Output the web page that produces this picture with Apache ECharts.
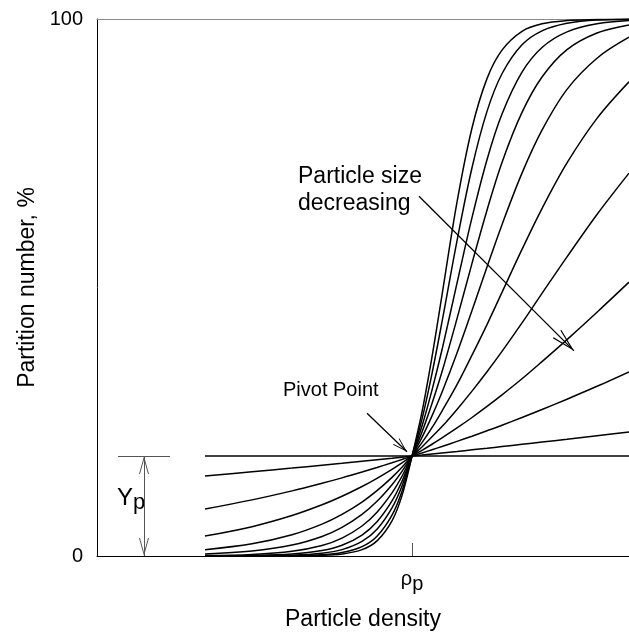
<!DOCTYPE html>
<html>
<head>
<meta charset="utf-8">
<script src="https://cdn.jsdelivr.net/npm/echarts@6/dist/echarts.min.js"></script>
<style>
html,body{margin:0;padding:0;background:#fff;}
#chart{width:629px;height:643px;}
</style>
</head>
<body>
<div id="chart"></div>
<script>
// x positions (arbitrary density units) where each curve was read
var xs = [108,155,195,225,245,265,280,295,305,315,325,335,345,360,375,390,405,425,445,470,500,532];
// partition number (%) curves, steepest (largest particles) to flattest
var curveA = [0,0,0.02,0.11,0.37,1.18,2.82,6.56,11.24,18.6,26.85,37.1,48.6,65.9,79.7,88.9,94.2,97.7,99.1,99.7,99.9,100];
var curveB = [0,0,0.05,0.23,0.64,1.75,3.69,7.61,12.07,18.6,25.5,33.98,43.6,58.7,72.3,82.8,89.8,95.2,97.8,99.2,99.8,99.9];
var curveC = [0,0.03,0.15,0.52,1.19,2.72,4.99,8.98,13.05,18.6,24.2,30.9,38.4,50.8,63.0,73.8,82.3,90.1,94.7,97.6,99.1,99.7];
var curveD = [0.02,0.09,0.36,1.01,2.0,3.91,6.39,10.28,13.93,18.6,23.1,28.4,34.3,44.2,54.5,64.4,73.3,82.6,89.2,94.3,97.4,98.9];
var curveE = [0.09,0.30,0.89,1.97,3.34,5.59,8.16,11.75,14.85,18.6,22.1,26.1,30.5,37.8,45.7,53.8,61.7,71.3,79.3,86.9,92.7,96.6];
var curveF = [0.36,0.92,2.03,3.64,5.34,7.76,10.19,13.28,15.76,18.6,21.1,23.9,27.0,31.9,37.4,43.1,49.1,57.1,64.7,73.2,81.5,88.3];
var curveG = [1.17,2.27,3.95,5.93,7.75,10.05,12.17,14.65,16.53,18.6,20.3,22.2,24.1,27.3,30.7,34.3,38.1,43.4,48.9,55.7,63.6,71.3];
var curveH = [3.71,5.46,7.53,9.53,11.12,12.94,14.47,16.14,17.33,18.6,19.68,20.81,21.99,23.84,25.79,27.85,30.0,33.0,36.2,40.3,45.4,51.0];
var curveI = [8.74,10.45,12.13,13.54,14.55,15.63,16.48,17.36,17.97,18.6,19.18,19.78,20.39,21.34,22.31,23.32,24.35,25.79,27.27,29.2,31.6,34.3];
var curveJ = [14.89,15.68,16.37,16.91,17.27,17.65,17.93,18.21,18.41,18.6,18.79,18.99,19.18,19.47,19.77,20.07,20.38,20.79,21.21,21.74,22.39,23.1];
var flatX = [108,532];
var flatY = [18.6,18.6];
// pivot point and axis ticks
var pivotX = 315;
var pivotY = 18.6;
var xMin = 0, xMax = 532;
var yTicks = [0,100];
// annotation geometry (data units)
var sizeArrow = [[322,67.0],[477,38.2]];
var pivotArrow = [[270,26.6],[310,19.4]];
var ypArrowX = 47;
var ypLineX = [21,73];

var FONT = '"Liberation Sans", Arial, sans-serif';
var chevron = 'path://M0,0 L6,16 L4.8,16 L0,3.2 L-4.8,16 L-6,16 Z';

function zip(x, y){ return x.map(function(v,i){ return [v, y[i]]; }); }
function head(w, h){ return {symbol:chevron, symbolSize:[w,h], symbolOffset:[0, h/2]}; }

var curves = [curveA,curveB,curveC,curveD,curveE,curveF,curveG,curveH,curveI,curveJ];
var series = curves.map(function(c){
  return {
    type:'line', data: zip(xs,c), smooth:0.35,
    showSymbol:false, symbol:'none', silent:true,
    lineStyle:{color:'#000', width:1.5}
  };
});
function end(coord, h){ var o = {coord:coord}; if (h) { for (var k in h) o[k] = h[k]; } else { o.symbol = 'none'; } return o; }
series.push({
  type:'line', data: zip(flatX, flatY), symbol:'none', silent:true,
  lineStyle:{color:'#000', width:1.5},
  markLine:{
    silent:true, animation:false, label:{show:false},
    data:[
      [Object.assign(end(sizeArrow[0]), {lineStyle:{color:'#000',width:1.3,type:'solid'}}), end(sizeArrow[1], head(12,24))],
      [Object.assign(end(pivotArrow[0]), {lineStyle:{color:'#000',width:1.3,type:'solid'}}), end(pivotArrow[1], head(9,15))],
      [Object.assign(end([ypArrowX,0], head(10,18)), {lineStyle:{color:'#555',width:1,type:'solid'}}), end([ypArrowX,pivotY], head(10,18))],
      [Object.assign(end([ypLineX[0],pivotY]), {lineStyle:{color:'#555',width:1,type:'solid'}}), end([ypLineX[1],pivotY])]
    ]
  }
});

var chart = echarts.init(document.getElementById('chart'), null, {renderer:'canvas'});
chart.setOption({
  animation:false,
  backgroundColor:'#fff',
  grid:{left:97, right:0, top:19, bottom:87},
  xAxis:[{
    type:'value', min:xMin, max:xMax, position:'bottom',
    axisLine:{show:true, lineStyle:{color:'#000', width:1}},
    splitLine:{show:false},
    axisTick:{show:true, inside:true, length:13, customValues:[pivotX], lineStyle:{color:'#555'}},
    axisLabel:{show:true, customValues:[pivotX], margin:12,
      formatter:function(v){ return v===pivotX ? '{r|ρ}{s|p}' : ''; },
      rich:{r:{fontSize:20, fontFamily:FONT, color:'#000', padding:[0,0,4,0]},
            s:{fontSize:20, fontFamily:FONT, color:'#000', padding:[6,0,0,0]}}},
    name:'Particle density', nameLocation:'middle', nameGap:52,
    nameTextStyle:{fontSize:23, fontFamily:FONT, color:'#000'}
  },{
    type:'value', min:xMin, max:xMax, position:'top',
    axisLine:{show:true, lineStyle:{color:'#888', width:1}},
    axisTick:{show:false}, axisLabel:{show:false}, splitLine:{show:false}
  }],
  yAxis:{
    type:'value', min:yTicks[0], max:yTicks[1], interval:yTicks[1]-yTicks[0],
    axisLine:{show:true, lineStyle:{color:'#000', width:1}},
    axisTick:{show:false}, splitLine:{show:false},
    axisLabel:{fontSize:20, fontFamily:FONT, color:'#000', margin:14},
    name:'Partition number, %', nameLocation:'middle', nameGap:57,
    nameTextStyle:{fontSize:23, fontFamily:FONT, color:'#000'}
  },
  graphic:[
    {type:'text', left:298, top:163, style:{text:'Particle size\ndecreasing', font:'23px '+FONT, fill:'#000', lineHeight:27}},
    {type:'text', left:283, top:380, style:{text:'Pivot Point', font:'20px '+FONT, fill:'#000'}},
    {type:'text', left:117, top:486, style:{text:'{y|Y}{p|p}', rich:{y:{font:'24px '+FONT, fill:'#000'}, p:{font:'22px '+FONT, fill:'#000', padding:[10,0,0,0]}}}}
  ],
  series:series
});
</script>
</body>
</html>
